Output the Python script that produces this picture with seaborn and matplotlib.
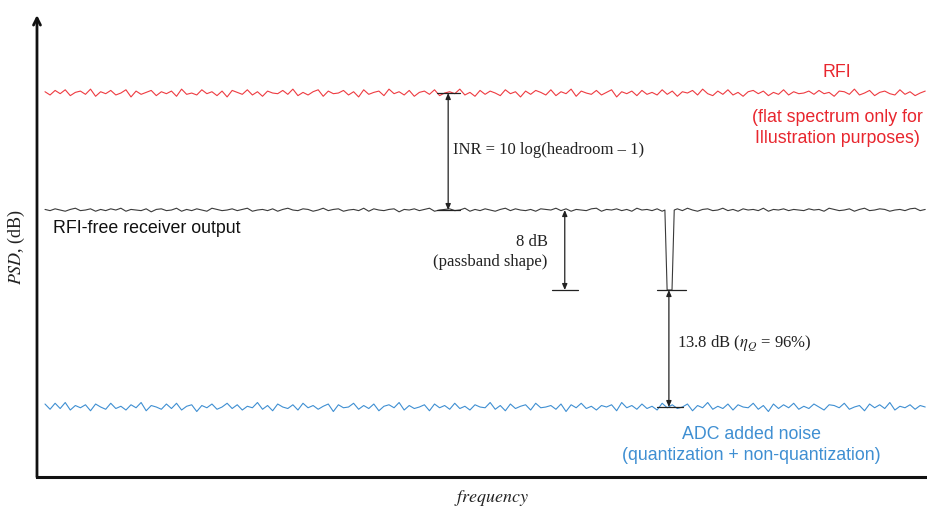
import numpy as np
import pandas as pd
import matplotlib
matplotlib.use("Agg")
import matplotlib.pyplot as plt
import seaborn as sns

# levels of the three spectra (drawing units, blue floor near the bottom)
levels = {"RFI": 38.4, "RFI-free receiver output": 26.7, "ADC added noise": 7.0}
notch_level = 18.7
notch_edges = [70.55, 70.8, 71.35, 71.6]

# wiggles (small integer steps around each level)
red_jitter = [2, -3, 4, -1, 5, -4, 1, 3, -2, 6, -5, 2, -1, 4, -3, 0, 5, -6, 3, -2, 1, 4, -4, 2, -1,
              3, -5, 6, -2, 0, -3, 5, -1, 2, -4, 3, -6, 4, 1, -2, 5, -3, 2, -5, 3, 0, -1, 4, -2, 6,
              -4, 1, -3, 2, 5, -5, 3, -1, 0, 4, -3, 2, -6, 5, -2, 1, 3, -4, 6, -1, 2, -3, 4, -5, 1,
              3, -2, 5, -4, 0, 2, -1, 6, -3, 1, -5, 4, -2, 3, 0, -4, 5, -1, 2, -6, 3, -2, 4, 1, -3,
              5, -4, 2, -1, 6, -5, 3, 0, -2, 4, -3, 1, 5, -6, 2, -1, 3, -4, 4, -2, 1, -3, 5, -2, 3,
              -5, 2, 0, 4, -3, 6, -1, -4, 3, -2, 5, -3, 1, -5, 2, 4, -1, 3, -4, 1, -2, 5, -3, 2, -1,
              0, 3, -2, 4, -1, 1, -5, 3, 2, -2, 6, -3, 0, 4, -4, 1, 3, -1, -3, 5, -2, 2, -4, 0, 3]
black_jitter = [1, -1, 2, 0, -2, 1, 3, -1, 0, 2, -2, 1, -1, 2, 0, 3, -2, 1, 0, -1, 2, -3, 1, 2, -1,
                0, 3, -2, 1, -1, 2, 0, -2, 3, 1, -1, 0, 2, -1, 1, 3, -2, 0, 1, -1, 2, -2, 1, 3, 0,
                -1, 2, 1, -2, 0, 3, -1, 1, 2, -2, 0, 1, -1, 3, -2, 2, 0, -1, 1, 2, -3, 1, 0, 2, -1,
                1, 3, -2, 0, 1, 2, -1, 0, 3, -2, 1, -1, 2, 0, -2, 1, 3, -1, 2, 0, -1, 1, -2, 2, 1,
                0, 3, -1, 2, -2, 1, 0, -1, 2, 3, -2, 1, 0, 2, -1, 1, -2, 3, 0, 1, -1, 2, -2, 0, 1,
                2, -1, 3, 0, -2, 1, 2, -1, 0, 3, -1, 1, -2, 2, 0, 1, -1, 3, -2, 1, 0, 2, -1, 1, 0,
                -1, 2, 0, 1, -2, 3, 1, -1, 0, 2, -2, 1, 3, -1, 0, 2, 1, -2, 0, 1, -1, 2, 3, -1, 1]
blue_jitter = [4, -3, 5, -2, 6, -4, 2, -1, 3, -5, 4, 0, -3, 5, -2, 1, -4, 3, -1, 6, -5, 2, 0, -3, 4,
               -2, 5, -4, 1, 3, -6, 2, -1, 4, -3, 0, 5, -2, 3, -4, 1, -1, 6, -3, 2, -5, 4, 0, -2, 3,
               -4, 5, -1, 2, -3, 1, 4, -6, 3, -1, 0, 5, -3, 2, -2, 4, -5, 1, 3, -1, 6, -4, 2, -2, 0,
               3, -5, 4, -1, 2, -3, 5, -2, 1, -4, 3, 0, -1, 6, -3, 2, -5, 4, -2, 1, 3, -4, 5, -1, 0,
               2, -3, 4, -6, 3, -1, 5, -2, 1, -4, 2, 0, 3, -5, 6, -1, 2, -3, 4, -2, 1, -4, 5, -1, 3,
               -2, 0, 4, -5, 2, -1, 6, -3, 1, -2, 4, -4, 3, 0, -1, 5, -3, 2, -6, 4, -2, 3, -1, 5, -3,
               1, -2, 4, 0, -4, 3, 2, -1, 5, -3, 0, 2, -5, 4, -1, 3, -2, 6, -4, 1, -1, 3, -3, 2, 0]

x_start, x_end = 0.9, 99.8
colors = {"RFI": "#ee3b41", "RFI-free receiver output": "#3a3a3a", "ADC added noise": "#3f8fd2"}


def trace(jitter, level, scale):
    f = np.linspace(x_start, x_end, len(jitter))
    return pd.DataFrame({"frequency": f, "psd": level + scale * np.array(jitter)})


def black_trace():
    df = trace(black_jitter, levels["RFI-free receiver output"], 0.06)
    left = df[df["frequency"] < notch_edges[0]]
    right = df[df["frequency"] > notch_edges[-1]]
    top = levels["RFI-free receiver output"]
    notch = pd.DataFrame({"frequency": notch_edges,
                          "psd": [top, notch_level, notch_level, top]})
    return pd.concat([left, notch, right], ignore_index=True)


sns.set_style("white")
plt.rcParams["mathtext.fontset"] = "stix"
serif = "Liberation Serif"
sans = "Liberation Sans"

fig = plt.figure(figsize=(9.27, 5.08), dpi=100)
ax = fig.add_axes([0.0399, 0.061, 0.9601, 0.9094])

sns.lineplot(data=trace(red_jitter, levels["RFI"], 0.065), x="frequency", y="psd",
             color=colors["RFI"], lw=0.8, estimator=None, sort=False, ax=ax)
sns.lineplot(data=black_trace(), x="frequency", y="psd",
             color=colors["RFI-free receiver output"], lw=0.8, estimator=None, sort=False, ax=ax)
sns.lineplot(data=trace(blue_jitter, levels["ADC added noise"], 0.075), x="frequency", y="psd",
             color=colors["ADC added noise"], lw=0.8, estimator=None, sort=False, ax=ax)

ax.set_xlim(0, 100)
ax.set_ylim(0, 46.2)
ax.set_xticks([])
ax.set_yticks([])
for side in ["top", "right"]:
    ax.spines[side].set_visible(False)
ax.spines["left"].set_visible(False)
ax.spines["bottom"].set_linewidth(2.2)
ax.spines["bottom"].set_color("#111111")

# vertical axis with arrow head
ax.annotate("", xy=(0, 1.0), xytext=(0, 0), xycoords="axes fraction",
            arrowprops=dict(arrowstyle="->,head_length=0.5,head_width=0.25", lw=2.0, color="#111111",
                            shrinkA=0, shrinkB=0))


def dim_arrow(x, y0, y1):
    ax.annotate("", xy=(x, y1), xytext=(x, y0),
                arrowprops=dict(arrowstyle="<|-|>,head_length=0.35,head_width=0.15", lw=0.9,
                                color="#222222", shrinkA=0, shrinkB=0))


def bar(x0, x1, y):
    ax.plot([x0, x1], [y, y], color="#222222", lw=0.9)


red = levels["RFI"]
blk = levels["RFI-free receiver output"]
blu = levels["ADC added noise"]

dim_arrow(46.2, blk, red)
bar(44.9, 47.5, red)
bar(44.9, 47.5, blk)
dim_arrow(59.3, notch_level, blk)
bar(57.9, 60.8, notch_level)
dim_arrow(71.0, blu, notch_level)
bar(69.7, 72.9, notch_level)
bar(69.7, 72.6, blu)

ax.text(46.7, 32.7, "INR = 10 log(headroom \u2013 1)", family=serif, fontsize=12,
        va="center", ha="left", color="#222222")
ax.text(57.4, 22.5, "8 dB\n(passband shape)", family=serif, fontsize=12,
        va="center", ha="right", multialignment="right", color="#222222", linespacing=1.3)
ax.text(71.9, 13.4, "13.8 dB ($\\eta_Q$ = 96%)", family=serif, fontsize=12,
        va="center", ha="left", color="#222222")

ax.text(89.9, 40.5, "RFI", family=sans, fontsize=12.8, color="#e8262e", ha="center", va="center")
ax.text(89.9, 34.9, "(flat spectrum only for\nIllustration purposes)", family=sans, fontsize=12.8,
        color="#e8262e", ha="center", va="center", linespacing=1.35)
ax.text(1.8, 24.9, "RFI-free receiver output", family=sans, fontsize=12.8, color="#111111",
        ha="left", va="center")
ax.text(80.3, 3.2, "ADC added noise\n(quantization + non-quantization)", family=sans, fontsize=12.8,
        color=colors["ADC added noise"], ha="center", va="center", linespacing=1.35)

ax.set_ylabel("$PSD$, (dB)", family=serif, fontsize=13, color="#222222")
ax.yaxis.set_label_coords(-0.011, 0.498)
ax.set_xlabel("$frequency$", fontsize=13, color="#222222")
ax.xaxis.set_label_coords(0.511, -0.024)

fig.savefig("out.png", dpi=100)
